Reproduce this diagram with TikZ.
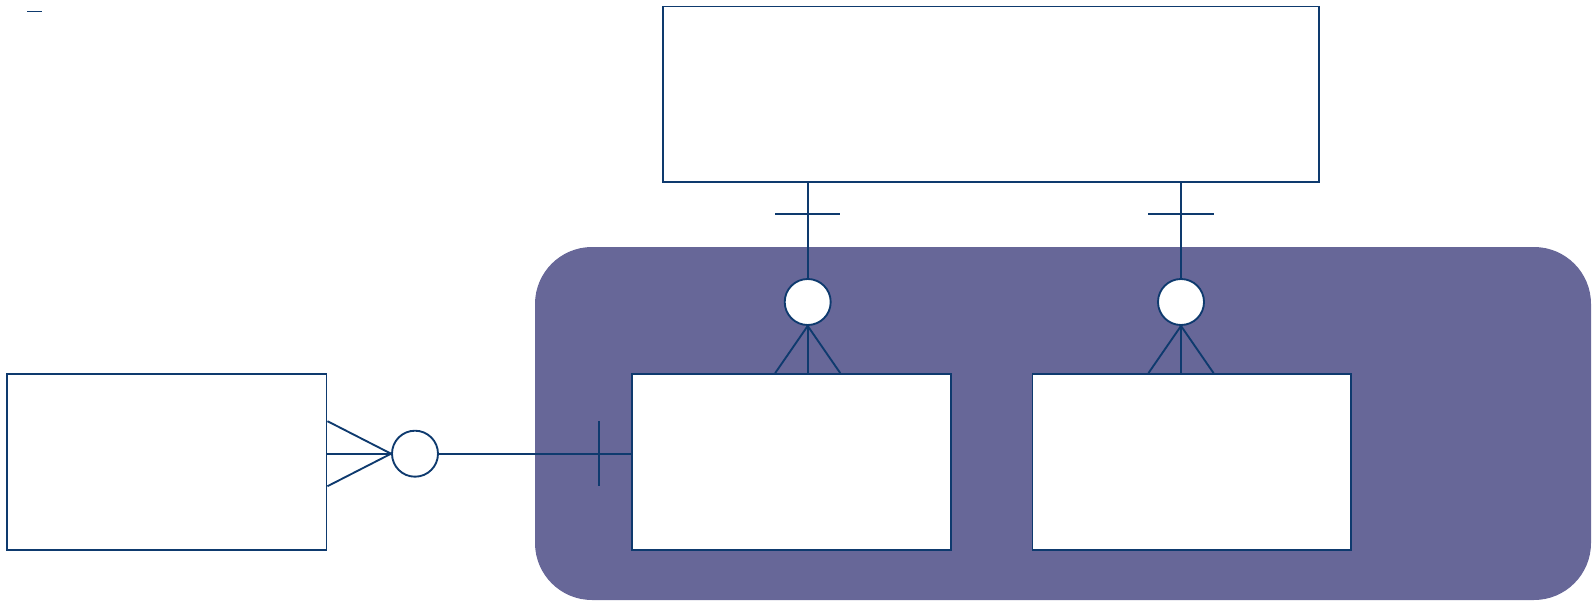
\documentclass[tikz,border=0pt]{standalone}
\usetikzlibrary{fit}
\definecolor{navy}{RGB}{14,58,110}
\definecolor{violet}{RGB}{103,103,152}
\begin{document}
\begin{tikzpicture}[x=0.75pt,y=-0.75pt,
  conn/.style={draw=navy,line width=1.4pt},
  ent/.style={draw=navy,line width=1.4pt,fill=white,inner sep=0pt,rectangle},
  ring/.style={draw=navy,line width=1.4pt,fill=white,circle,inner sep=0pt,minimum size=34.5pt}]
\useasboundingbox (0,0) rectangle (1595,600);
% group background
\fill[violet,rounded corners=42.75pt] (535,247) rectangle (1591,600);
% legend stub
\draw[conn] (27,11.5) -- (42,11.5);
% entities
\node[ent,fit={(663,6.5) (1319,182)}] (top) {};
\node[ent,fit={(7,374) (326.5,550)}] (left) {};
\node[ent,fit={(631.7,374) (951,550)}] (mid) {};
\node[ent,fit={(1032.5,374) (1351,550)}] (right) {};
% rings
\node[ring] (c1) at (807.7,302) {};
\node[ring] (c2) at (1181,302) {};
\node[ring] (c3) at (415,453.7) {};
% top -> mid
\coordinate (t1) at (top.south -| c1);
\draw[conn] (t1) -- (c1.north);
\draw[conn] ([xshift=-24.4pt]t1 |- 0,213.6) -- ([xshift=24.4pt]t1 |- 0,213.6);
\draw[conn] (c1.south) -- (mid.north -| c1);
\draw[conn] (c1.south) -- ([xshift=-24.4pt]mid.north -| c1);
\draw[conn] (c1.south) -- ([xshift=24.4pt]mid.north -| c1);
% top -> right
\coordinate (t2) at (top.south -| c2);
\draw[conn] (t2) -- (c2.north);
\draw[conn] ([xshift=-24.4pt]t2 |- 0,213.6) -- ([xshift=24.4pt]t2 |- 0,213.6);
\draw[conn] (c2.south) -- (right.north -| c2);
\draw[conn] (c2.south) -- ([xshift=-24.4pt]right.north -| c2);
\draw[conn] (c2.south) -- ([xshift=24.4pt]right.north -| c2);
% left <-> mid
\coordinate (l1) at (left.east |- c3);
\draw[conn] (c3.west) -- (l1);
\draw[conn] (c3.west) -- ([yshift=24.4pt]l1);
\draw[conn] (c3.west) -- ([yshift=-24.4pt]l1);
\draw[conn] (c3.east) -- (mid.west |- c3);
\coordinate (bar) at (599,453.7);
\draw[conn] ([yshift=24.4pt]bar) -- ([yshift=-24.4pt]bar);
\end{tikzpicture}
\end{document}
